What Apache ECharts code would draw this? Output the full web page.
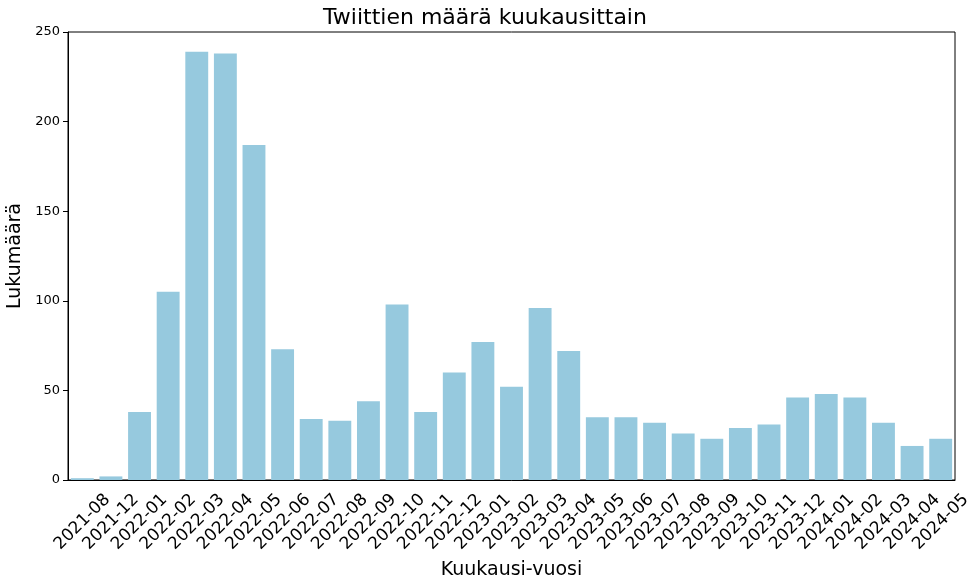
<!DOCTYPE html>
<html>
<head>
<meta charset="utf-8">
<script src="https://cdn.jsdelivr.net/npm/echarts@6/dist/echarts.min.js"></script>
<style>
  html, body { margin: 0; padding: 0; background: #fff; }
  #chart { width: 970px; height: 577px; }
</style>
</head>
<body>
<div id="chart"></div>
<script>
const months = [
  '2021-08', '2021-12', '2022-01', '2022-02', '2022-03', '2022-04', '2022-05',
  '2022-06', '2022-07', '2022-08', '2022-09', '2022-10', '2022-11', '2022-12',
  '2023-01', '2023-02', '2023-03', '2023-04', '2023-05', '2023-06', '2023-07',
  '2023-08', '2023-09', '2023-10', '2023-11', '2023-12', '2024-01', '2024-02',
  '2024-03', '2024-04', '2024-05'
];
const tweetCounts = [
  1, 2, 38, 105, 239, 238, 187,
  73, 34, 33, 44, 98, 38, 60,
  77, 52, 96, 72, 35, 35, 32,
  26, 23, 29, 31, 46, 48, 46,
  32, 19, 23
];
const yTicks = [0, 50, 100, 150, 200, 250];

const font = 'DejaVu Sans';
const chart = echarts.init(document.getElementById('chart'), null, { renderer: 'canvas' });

chart.setOption({
  animation: false,
  backgroundColor: '#fff',
  title: {
    text: 'Twiittien määrä kuukausittain',
    left: 'center',
    top: 2,
    textStyle: { fontFamily: font, fontSize: 22, fontWeight: 'normal', color: '#000' }
  },
  grid: {
    left: 68, right: 15, top: 32, bottom: 97,
    containLabel: false,
    outerBoundsMode: 'none',
    show: true, borderColor: '#000', borderWidth: 1, backgroundColor: 'transparent'
  },
  xAxis: {
    type: 'category',
    data: months,
    name: 'Kuukausi-vuosi',
    nameLocation: 'middle',
    nameGap: 78,
    nameTextStyle: { fontFamily: font, fontSize: 19, color: '#000' },
    axisLine: { lineStyle: { color: '#000', width: 1 } },
    axisTick: { alignWithLabel: true, length: 5, lineStyle: { color: '#000' } },
    axisLabel: {
      rotate: 45, interval: 0, margin: 42, hideOverlap: false,
      align: 'center', verticalAlign: 'middle',
      fontFamily: font, fontSize: 17, color: '#000'
    }
  },
  yAxis: {
    type: 'value',
    min: 0, max: 250, interval: 50,
    name: 'Lukumäärä',
    nameLocation: 'middle',
    nameGap: 43,
    nameTextStyle: { fontFamily: font, fontSize: 19, color: '#000' },
    axisLine: { show: true, lineStyle: { color: '#000', width: 1 } },
    axisTick: { show: true, length: 5, lineStyle: { color: '#000' } },
    splitLine: { show: false },
    axisLabel: {
      fontFamily: font, fontSize: 13, color: '#000', margin: 8,
      formatter: v => yTicks.includes(v) ? String(v) : ''
    }
  },
  series: [{
    type: 'bar',
    data: tweetCounts,
    barCategoryGap: '20%',
    itemStyle: { color: '#96c9de' }
  }]
});
</script>
</body>
</html>
